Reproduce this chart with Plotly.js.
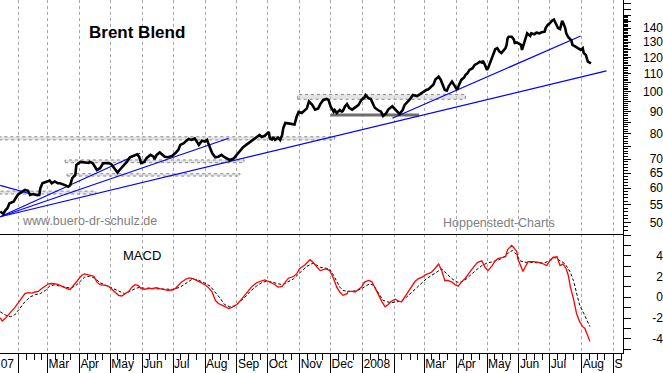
<!DOCTYPE html>
<html>
<head>
<meta charset="utf-8">
<script src="https://cdn.plot.ly/plotly-3.0.1.min.js"></script>
<style>html,body{margin:0;padding:0;background:#fff;}#chart{width:663px;height:373px;}</style>
</head>
<body>
<div id="chart"></div>
<script>
// ---------------- DATA ----------------
var priceDates = ['2007-01-14','2007-01-17','2007-01-19','2007-01-21','2007-01-23','2007-01-27','2007-01-29','2007-01-31','2007-02-02','2007-02-04','2007-02-07','2007-02-10','2007-02-12','2007-02-15','2007-02-18','2007-02-21','2007-02-22','2007-02-24','2007-02-28','2007-03-03','2007-03-05','2007-03-08','2007-03-11','2007-03-13','2007-03-18','2007-03-21','2007-03-23','2007-03-25','2007-03-28','2007-03-29','2007-04-02','2007-04-06','2007-04-10','2007-04-11','2007-04-14','2007-04-18','2007-04-21','2007-04-24','2007-04-29','2007-05-02','2007-05-06','2007-05-08','2007-05-10','2007-05-14','2007-05-17','2007-05-20','2007-05-23','2007-05-27','2007-05-29','2007-05-31','2007-06-03','2007-06-05','2007-06-09','2007-06-12','2007-06-13','2007-06-15','2007-06-18','2007-06-20','2007-06-23','2007-06-26','2007-06-30','2007-07-03','2007-07-06','2007-07-08','2007-07-11','2007-07-14','2007-07-16','2007-07-19','2007-07-22','2007-07-24','2007-07-26','2007-07-29','2007-08-01','2007-08-03','2007-08-04','2007-08-06','2007-08-08','2007-08-11','2007-08-14','2007-08-17','2007-08-20','2007-08-24','2007-08-25','2007-08-29','2007-09-01','2007-09-04','2007-09-07','2007-09-11','2007-09-14','2007-09-17','2007-09-20','2007-09-23','2007-09-25','2007-09-28','2007-10-02','2007-10-03','2007-10-05','2007-10-06','2007-10-08','2007-10-11','2007-10-13','2007-10-15','2007-10-16','2007-10-18','2007-10-21','2007-10-24','2007-10-27','2007-10-29','2007-10-31','2007-11-03','2007-11-06','2007-11-08','2007-11-10','2007-11-13','2007-11-16','2007-11-19','2007-11-21','2007-11-24','2007-11-27','2007-11-29','2007-12-01','2007-12-04','2007-12-05','2007-12-07','2007-12-10','2007-12-12','2007-12-13','2007-12-15','2007-12-17','2007-12-19','2007-12-22','2007-12-25','2007-12-28','2007-12-31','2008-01-03','2008-01-04','2008-01-07','2008-01-09','2008-01-11','2008-01-13','2008-01-16','2008-01-19','2008-01-21','2008-01-24','2008-01-26','2008-01-28','2008-01-30','2008-02-02','2008-02-04','2008-02-06','2008-02-09','2008-02-11','2008-02-14','2008-02-16','2008-02-19','2008-02-23','2008-02-26','2008-02-29','2008-03-03','2008-03-05','2008-03-07','2008-03-10','2008-03-12','2008-03-15','2008-03-17','2008-03-19','2008-03-21','2008-03-23','2008-03-25','2008-03-28','2008-03-30','2008-04-02','2008-04-04','2008-04-06','2008-04-09','2008-04-10','2008-04-12','2008-04-14','2008-04-17','2008-04-19','2008-04-22','2008-04-24','2008-04-26','2008-04-27','2008-04-29','2008-05-01','2008-05-02','2008-05-04','2008-05-06','2008-05-07','2008-05-09','2008-05-11','2008-05-13','2008-05-15','2008-05-17','2008-05-19','2008-05-20','2008-05-21','2008-05-22','2008-05-25','2008-05-27','2008-05-28','2008-05-30','2008-06-01','2008-06-03','2008-06-04','2008-06-05','2008-06-07','2008-06-09','2008-06-10','2008-06-12','2008-06-13','2008-06-16','2008-06-18','2008-06-21','2008-06-23','2008-06-26','2008-06-27','2008-06-29','2008-07-01','2008-07-03','2008-07-05','2008-07-07','2008-07-09','2008-07-11','2008-07-13','2008-07-14','2008-07-16','2008-07-17','2008-07-19','2008-07-22','2008-07-23','2008-07-26','2008-07-29','2008-07-31','2008-08-02','2008-08-03','2008-08-05','2008-08-06','2008-08-07','2008-08-10'];
var prices = [53.0,52.4,53.4,54.0,55.4,55.9,56.9,57.9,58.4,58.9,59.5,59.2,57.9,58.2,57.9,57.9,60.0,61.6,62.2,62.5,61.6,62.2,61.6,61.6,61.0,60.5,61.0,63.3,64.4,67.9,69.0,68.8,68.6,69.0,68.5,66.1,66.7,68.5,68.6,68.1,66.1,65.2,66.1,67.6,69.0,70.7,71.2,71.8,70.9,68.6,69.0,70.3,71.6,70.9,70.0,71.6,72.5,71.8,70.9,70.7,71.2,72.2,73.5,75.5,76.1,77.2,77.9,77.5,78.1,76.8,75.5,77.2,76.8,77.5,76.2,74.2,72.2,70.7,70.9,71.6,70.7,69.9,69.7,70.3,71.6,72.9,74.6,75.8,76.8,77.5,78.5,79.6,78.7,79.2,80.8,78.1,77.7,78.7,77.5,78.5,77.5,79.6,82.4,84.8,84.6,84.3,84.1,87.6,89.9,89.4,91.0,91.6,95.0,93.5,91.0,91.6,93.7,95.8,96.3,95.8,92.5,90.0,90.8,89.4,90.8,90.0,90.4,92.5,93.7,91.9,91.0,91.9,93.2,95.8,97.1,98.3,96.6,96.3,93.8,91.9,90.8,90.0,88.0,89.2,91.0,91.9,92.6,91.0,90.0,88.9,90.8,93.3,94.9,96.0,98.3,97.8,98.8,100.0,101.0,101.3,102.6,104.0,106.9,108.3,106.6,103.7,101.0,100.6,103.2,105.6,103.7,101.0,104.0,106.5,108.0,109.3,110.4,112.3,113.3,115.3,116.3,117.3,116.7,117.8,115.3,112.3,113.3,116.3,119.5,121.6,125.3,126.0,123.8,122.8,124.8,126.0,128.2,132.7,133.8,133.8,132.0,129.5,129.9,129.0,128.2,124.8,127.0,132.0,136.3,135.6,134.4,136.3,135.6,136.8,136.3,137.0,137.5,140.1,142.5,143.7,145.6,146.6,143.2,140.1,139.4,145.6,144.2,140.1,136.3,133.5,131.3,128.2,127.0,126.0,124.8,126.0,122.8,121.6,119.5,117.3,116.3];

var macdDates = ['2007-01-14','2007-01-16','2007-01-19','2007-01-22','2007-01-25','2007-01-28','2007-02-01','2007-02-04','2007-02-07','2007-02-10','2007-02-14','2007-02-17','2007-02-20','2007-02-23','2007-02-27','2007-03-02','2007-03-05','2007-03-10','2007-03-13','2007-03-16','2007-03-20','2007-03-23','2007-03-26','2007-03-30','2007-04-03','2007-04-06','2007-04-10','2007-04-15','2007-04-18','2007-04-21','2007-04-26','2007-04-29','2007-05-02','2007-05-06','2007-05-09','2007-05-12','2007-05-15','2007-05-19','2007-05-22','2007-05-25','2007-05-28','2007-05-31','2007-06-04','2007-06-07','2007-06-10','2007-06-15','2007-06-18','2007-06-22','2007-06-26','2007-06-30','2007-07-03','2007-07-06','2007-07-09','2007-07-14','2007-07-17','2007-07-21','2007-07-24','2007-07-29','2007-08-01','2007-08-04','2007-08-08','2007-08-11','2007-08-14','2007-08-19','2007-08-24','2007-08-27','2007-09-01','2007-09-06','2007-09-11','2007-09-15','2007-09-20','2007-09-25','2007-09-28','2007-10-02','2007-10-05','2007-10-08','2007-10-11','2007-10-15','2007-10-18','2007-10-21','2007-10-26','2007-10-29','2007-11-01','2007-11-06','2007-11-11','2007-11-14','2007-11-18','2007-11-21','2007-11-26','2007-11-30','2007-12-04','2007-12-07','2007-12-10','2007-12-13','2007-12-17','2007-12-18','2007-12-22','2007-12-25','2007-12-28','2007-12-31','2008-01-03','2008-01-07','2008-01-10','2008-01-13','2008-01-16','2008-01-20','2008-01-23','2008-01-26','2008-01-29','2008-02-02','2008-02-05','2008-02-08','2008-02-11','2008-02-15','2008-02-18','2008-02-21','2008-02-24','2008-02-28','2008-03-02','2008-03-05','2008-03-08','2008-03-11','2008-03-15','2008-03-18','2008-03-21','2008-03-24','2008-03-28','2008-03-31','2008-04-03','2008-04-06','2008-04-10','2008-04-13','2008-04-16','2008-04-19','2008-04-22','2008-04-26','2008-04-29','2008-05-02','2008-05-06','2008-05-09','2008-05-12','2008-05-15','2008-05-19','2008-05-21','2008-05-25','2008-05-27','2008-05-30','2008-05-31','2008-06-04','2008-06-05','2008-06-07','2008-06-10','2008-06-15','2008-06-20','2008-06-25','2008-06-28','2008-07-01','2008-07-04','2008-07-08','2008-07-11','2008-07-14','2008-07-17','2008-07-19','2008-07-21','2008-07-24','2008-07-27','2008-07-30','2008-08-02','2008-08-04','2008-08-06','2008-08-09'];
var macd = [-1.97,-2.29,-2.03,-1.65,-1.33,-1.02,-0.44,0.03,0.35,0.44,0.41,0.51,0.57,0.83,1.08,1.30,1.33,1.27,1.14,0.98,0.83,0.76,1.14,1.71,2.10,2.25,2.16,2.03,1.46,1.21,1.14,1.08,0.83,0.51,0.19,0.13,0.35,0.57,0.98,1.21,1.14,0.83,0.76,0.89,0.83,0.92,0.83,0.76,0.67,0.70,0.83,1.14,1.46,1.78,1.87,1.78,1.62,1.40,1.21,0.98,0.51,-0.29,-0.60,-0.83,-1.08,-0.98,-0.70,-0.13,0.51,0.98,1.40,1.62,1.68,1.52,1.40,1.21,0.98,1.05,1.46,1.84,2.00,2.25,2.79,3.11,3.62,3.37,2.89,2.57,2.73,2.60,1.78,0.98,0.51,0.19,0.35,0.57,0.57,0.51,0.76,0.98,1.46,1.62,1.52,0.98,0.35,-0.44,-0.92,-0.70,-0.38,-0.19,-0.38,-0.44,0.03,0.57,1.14,1.52,1.78,1.94,2.16,2.25,2.41,2.73,3.21,2.57,1.62,1.62,1.46,1.21,1.08,1.46,1.84,2.25,2.67,3.05,3.37,3.52,2.89,2.57,3.05,3.52,3.75,3.84,3.90,4.60,5.00,4.80,4.40,3.68,2.73,2.48,2.89,3.43,3.43,3.37,3.21,3.05,3.52,3.84,3.90,3.05,3.21,2.73,2.10,0.98,-0.13,-1.56,-2.35,-2.83,-2.98,-3.46,-4.25];

var signalDates = ['2007-01-14','2007-01-19','2007-01-24','2007-01-28','2007-02-02','2007-02-07','2007-02-12','2007-02-17','2007-02-22','2007-02-27','2007-03-03','2007-03-08','2007-03-13','2007-03-18','2007-03-23','2007-03-28','2007-04-02','2007-04-06','2007-04-11','2007-04-16','2007-04-21','2007-04-28','2007-05-04','2007-05-10','2007-05-15','2007-05-20','2007-05-25','2007-05-30','2007-06-04','2007-06-12','2007-06-22','2007-07-01','2007-07-08','2007-07-14','2007-07-19','2007-07-24','2007-07-30','2007-08-06','2007-08-11','2007-08-16','2007-08-20','2007-08-25','2007-08-30','2007-09-04','2007-09-09','2007-09-14','2007-09-20','2007-09-25','2007-09-30','2007-10-05','2007-10-10','2007-10-15','2007-10-19','2007-10-26','2007-11-01','2007-11-08','2007-11-14','2007-11-21','2007-11-27','2007-11-30','2007-12-04','2007-12-07','2007-12-10','2007-12-13','2007-12-17','2007-12-22','2007-12-27','2007-12-31','2008-01-05','2008-01-08','2008-01-12','2008-01-15','2008-01-18','2008-01-21','2008-01-25','2008-01-29','2008-02-03','2008-02-08','2008-02-13','2008-02-18','2008-02-23','2008-02-28','2008-03-03','2008-03-08','2008-03-13','2008-03-18','2008-03-23','2008-03-26','2008-03-29','2008-04-02','2008-04-06','2008-04-11','2008-04-16','2008-04-21','2008-04-26','2008-05-01','2008-05-07','2008-05-14','2008-05-19','2008-05-23','2008-05-26','2008-05-30','2008-06-02','2008-06-07','2008-06-12','2008-06-18','2008-06-25','2008-07-01','2008-07-06','2008-07-11','2008-07-14','2008-07-17','2008-07-21','2008-07-24','2008-07-27','2008-07-30','2008-08-03','2008-08-06','2008-08-09'];
var signal = [-1.40,-1.71,-1.87,-1.71,-1.08,-0.44,0.03,0.25,0.35,0.67,1.08,1.21,1.08,0.98,0.89,1.08,1.52,1.94,2.03,1.84,1.40,1.08,0.83,0.51,0.35,0.57,0.83,0.98,0.83,0.83,0.76,0.76,0.98,1.40,1.71,1.71,1.46,1.08,0.51,-0.13,-0.70,-0.92,-0.83,-0.44,0.03,0.57,1.08,1.40,1.56,1.46,1.30,1.21,1.40,1.78,2.35,2.98,3.30,2.89,2.79,2.73,2.10,1.46,0.98,0.67,0.57,0.57,0.67,0.83,1.14,1.30,1.14,0.67,0.19,-0.29,-0.44,-0.51,-0.44,-0.38,0.03,0.51,0.98,1.46,1.78,2.10,2.41,2.73,2.25,1.94,1.71,1.46,1.46,1.78,2.25,2.67,3.05,3.30,3.43,3.68,4.00,4.40,4.50,4.10,3.52,3.37,3.37,3.37,3.30,3.52,3.84,3.52,3.37,3.05,2.41,1.62,0.51,-0.76,-1.56,-2.19,-2.83];

// trend lines (start/end points)
var trendStartDates = ['2007-01-14','2007-01-14','2007-01-14','2007-01-14','2008-01-30'];
var trendStartPrices = [60.9, 51.6, 51.6, 51.6, 86.9];
var trendEndDates = ['2007-02-20','2007-05-30','2007-08-24','2008-08-25','2008-07-31'];
var trendEndPrices = [57.6, 72.2, 78.2, 111.7, 134.4];

// support / resistance zones
var zoneStart = ['2007-01-13','2007-03-18','2007-03-20','2007-01-13','2007-10-30'];
var zoneEnd   = ['2007-12-05','2007-09-08','2007-09-04','2007-04-17','2008-04-10'];
var zoneLow   = [77.5, 68.7, 64.0, 58.2, 96.1];
var zoneHigh  = [78.8, 69.7, 64.8, 59.1, 98.6];
// solid support line
var supportStart = '2007-12-01', supportEnd = '2008-02-25', supportLevel = 88.4;

// axes / labels
var monthTicks = ['2007-02-01','2007-03-01','2007-04-01','2007-05-01','2007-06-01','2007-07-01','2007-08-01','2007-09-01','2007-10-01','2007-11-01','2007-12-01','2008-01-01','2008-02-01','2008-03-01','2008-04-01','2008-05-01','2008-06-01','2008-07-01','2008-08-01','2008-09-01'];
var monthLabels = ['','Mar','Apr','May','Jun','Jul','Aug','Sep','Oct','Nov','Dec','2008','','Mar','Apr','May','Jun','Jul','Aug','S'];
var firstLabelDate = '2007-01-14', firstLabel = '07';
var priceTickVals = [50,55,60,65,70,80,90,100,110,120,130,140];
var priceTickText = ['50','55','60','65','70','80','90','100','110','120','130','140'];
var macdTickVals = [-4,-2,0,2,4];
var macdTickText = ['-4','-2','0','2','4'];
var titleText = 'Brent Blend';
var macdLabel = 'MACD';
var sourceLeft = 'www.buero-dr-schulz.de';
var sourceRight = 'Hoppenstedt-Charts';

// ---------------- LAYOUT HELPERS ----------------
var xRange = ['2007-01-13 19:30', '2008-09-09 20:24'];
var priceRange = [Math.log10(47.09), Math.log10(162.6)];
var macdRange = [-5.37, 6.10];
var xDom = [0, 622.7/663];
var split = (353-234)/353;

var DAY = 86400000;
var minorX = [];
monthTicks.forEach(function(m){
  var t = new Date(m + 'T00:00:00Z').getTime();
  [7.4, 15.2, 22.6].forEach(function(o){ minorX.push(new Date(t + o*DAY).toISOString().slice(0,19).replace('T',' ')); });
});
var fiveTicks = [], unitTicks = [];
for (var v = 45; v <= 160; v += 5) fiveTicks.push(v);
for (var u = 47; u <= 150; u++) unitTicks.push(u);
var macdAllTicks = [];
for (var k = -5; k <= 6; k++) macdAllTicks.push(k);

var FONT = 'Liberation Sans, Arial, sans-serif';
var gridStyle = {showgrid:true, gridcolor:'#a8a8a8', griddash:'3px,3px', gridwidth:1};
var LABEL_SHIFT = 0;

// ---------------- TRACES ----------------
var traces = [];
for (var i = 0; i < zoneStart.length; i++) {
  traces.push({type:'scatter', mode:'lines', xaxis:'x2', yaxis:'y',
    x:[zoneStart[i], zoneEnd[i], zoneEnd[i], zoneStart[i], zoneStart[i]],
    y:[zoneLow[i], zoneLow[i], zoneHigh[i], zoneHigh[i], zoneLow[i]],
    fill:'toself', fillcolor:'rgba(205,205,205,0.55)',
    line:{color:'#8a8a8a', width:1, dash:'dot'}, hoverinfo:'skip'});
}
traces.push({type:'scatter', mode:'lines', xaxis:'x2', yaxis:'y',
  x:[supportStart, supportEnd], y:[supportLevel, supportLevel],
  line:{color:'#6e6e6e', width:3}, hoverinfo:'skip'});
var tx = [], ty = [];
for (var j = 0; j < trendStartDates.length; j++) {
  tx.push(trendStartDates[j], trendEndDates[j], null);
  ty.push(trendStartPrices[j], trendEndPrices[j], null);
}
traces.push({type:'scatter', mode:'lines', xaxis:'x2', yaxis:'y', x:tx, y:ty,
  line:{color:'#0000ff', width:1.2}, hoverinfo:'skip'});
traces.push({type:'scatter', mode:'lines', xaxis:'x2', yaxis:'y', x:priceDates, y:prices,
  line:{color:'#000000', width:2.6}, hoverinfo:'skip'});
traces.push({type:'scatter', mode:'lines', xaxis:'x', yaxis:'y2', x:signalDates, y:signal,
  line:{color:'#000000', width:1, dash:'3px,2px'}, hoverinfo:'skip'});
traces.push({type:'scatter', mode:'lines', xaxis:'x', yaxis:'y2', x:macdDates, y:macd,
  line:{color:'#ff0000', width:1.3}, hoverinfo:'skip'});
// invisible anchors for label-only axes
traces.push({type:'scatter', mode:'markers', xaxis:'x2', yaxis:'y3', x:[priceDates[0]], y:[prices[0]], marker:{opacity:0}, hoverinfo:'skip'});
traces.push({type:'scatter', mode:'markers', xaxis:'x', yaxis:'y4', x:[macdDates[0]], y:[macd[0]], marker:{opacity:0}, hoverinfo:'skip'});
traces.push({type:'scatter', mode:'markers', xaxis:'x3', yaxis:'y2', x:[macdDates[0]], y:[macd[0]], marker:{opacity:0}, hoverinfo:'skip'});

var layout = {
  width:663, height:373, margin:{l:0, r:0, t:0, b:20},
  paper_bgcolor:'#ffffff', plot_bgcolor:'#ffffff', showlegend:false,
  font:{family:FONT, size:12, color:'#000000'},
  xaxis: Object.assign({type:'date', domain:xDom, anchor:'y2', range:xRange,
    showline:true, linecolor:'#000', linewidth:1,
    tickmode:'array', tickvals:monthTicks, ticktext:monthLabels,
    ticks:'outside', ticklen:19, tickcolor:'#000', tickwidth:1, tickangle:0,
    ticklabelposition:'outside right', ticklabelstandoff:LABEL_SHIFT,
    tickfont:{family:FONT, size:12, color:'#000'},
    minor:{tickmode:'array', tickvals:minorX, ticks:'outside', ticklen:6, tickcolor:'#000', tickwidth:1, showgrid:false},
    zeroline:false, fixedrange:true}, gridStyle),
  xaxis2: Object.assign({type:'date', domain:xDom, anchor:'y', range:xRange,
    showline:true, linecolor:'#000', linewidth:1,
    tickmode:'array', tickvals:monthTicks, showticklabels:false, ticks:'',
    zeroline:false, fixedrange:true}, gridStyle),
  xaxis3: {type:'date', overlaying:'x', anchor:'y2', range:xRange,
    tickmode:'array', tickvals:[firstLabelDate], ticktext:[firstLabel],
    ticks:'outside', ticklen:19, tickcolor:'rgba(0,0,0,0)', tickangle:0,
    ticklabelposition:'outside right', ticklabelstandoff:LABEL_SHIFT,
    tickfont:{family:FONT, size:12, color:'#000'},
    showgrid:false, showline:false, zeroline:false, fixedrange:true},
  yaxis: {domain:[split, 1], anchor:'x2', side:'right', type:'log', range:priceRange,
    showline:true, linecolor:'#000', linewidth:1,
    tickmode:'array', tickvals:fiveTicks, ticks:'outside', ticklen:7, tickcolor:'#000',
    showticklabels:false,
    minor:{tickmode:'array', tickvals:unitTicks, ticks:'outside', ticklen:4, tickcolor:'#000', showgrid:false},
    showgrid:false, zeroline:false, fixedrange:true},
  yaxis3: {overlaying:'y', anchor:'free', position:1, side:'left', type:'log', range:priceRange,
    tickmode:'array', tickvals:priceTickVals, ticktext:priceTickText, ticks:'',
    tickfont:{family:FONT, size:12, color:'#000'},
    showline:false, showgrid:false, zeroline:false, fixedrange:true},
  yaxis2: {domain:[0, split], anchor:'x', side:'right', range:macdRange,
    showline:true, linecolor:'#000', linewidth:1,
    tickmode:'array', tickvals:macdAllTicks, ticks:'outside', ticklen:7, tickcolor:'#000',
    showticklabels:false, showgrid:false, zeroline:false, fixedrange:true},
  yaxis4: {overlaying:'y2', anchor:'free', position:1, side:'left', range:macdRange,
    tickmode:'array', tickvals:macdTickVals, ticktext:macdTickText, ticks:'',
    tickfont:{family:FONT, size:12, color:'#000'},
    showline:false, showgrid:false, zeroline:false, fixedrange:true},
  annotations: [
    {text:titleText, xref:'paper', yref:'paper', x:87/663, y:(353-32)/353, xanchor:'left', yanchor:'middle', showarrow:false,
     font:{family:FONT, size:17, color:'#000', weight:'bold'}},
    {text:sourceLeft, xref:'paper', yref:'paper', x:20/663, y:(353-221.5)/353, xanchor:'left', yanchor:'middle', showarrow:false,
     font:{family:FONT, size:12.5, color:'#7f7f7f'}},
    {text:sourceRight, xref:'paper', yref:'paper', x:441/663, y:(353-222.5)/353, xanchor:'left', yanchor:'middle', showarrow:false,
     font:{family:FONT, size:12.5, color:'#7f7f7f'}},
    {text:macdLabel, xref:'paper', yref:'paper', x:121/663, y:(353-255.5)/353, xanchor:'left', yanchor:'middle', showarrow:false,
     font:{family:FONT, size:13, color:'#000'}}
  ]
};

Plotly.newPlot('chart', traces, layout, {staticPlot:true, displayModeBar:false});
</script>
</body>
</html>
